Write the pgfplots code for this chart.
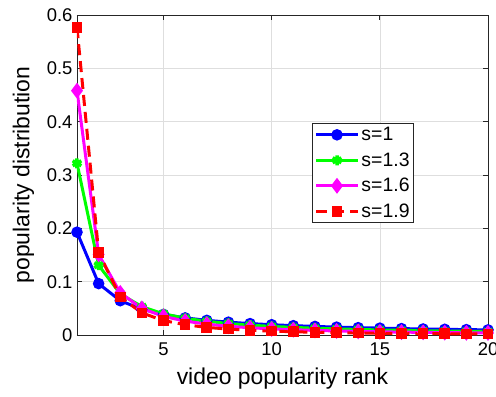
\documentclass[border=0pt]{standalone}
\usepackage{pgfplots}
\pgfplotsset{compat=1.18}
\usepackage{fontspec}
\setmainfont{Liberation Sans}
\definecolor{mgray}{RGB}{38,38,38}
\definecolor{gridc}{RGB}{222,222,222}
\definecolor{colB}{RGB}{0,0,255}
\definecolor{colG}{RGB}{0,255,0}
\definecolor{colM}{RGB}{255,0,255}
\definecolor{colR}{RGB}{255,0,0}
\begin{document}
\begin{tikzpicture}[x=1bp,y=1bp]
\path[use as bounding box] (-77,-61) rectangle (419,335);
\begin{axis}[
  at={(0,0)}, anchor=origin,
  scale only axis, width=411bp, height=320bp,
  xmin=1, xmax=20, ymin=0, ymax=0.6,
  xtick={5,10,15,20}, ytick={0,0.1,0.2,0.3,0.4,0.5,0.6},
  yticklabels={0,0.1,0.2,0.3,0.4,0.5,0.6},
  xticklabels={5,10,15,20},
  grid=major, major grid style={gridc, line width=0.6bp},
  axis line style={mgray, line width=0.8bp},
  tick style={mgray, line width=0.8bp},
  major tick length=5bp,
  tick pos=both, tick align=inside,
  ticklabel style={font=\fontsize{18.5}{22}\selectfont, text=black},
  xticklabel style={yshift=-4bp},
  yticklabel style={xshift=-1bp},
  xlabel={video popularity rank}, ylabel={popularity distribution},
  label style={font=\fontsize{23}{27}\selectfont},
  xlabel style={yshift=-5bp},
  ylabel style={yshift=6bp},
  legend style={at={(0.572,0.6625)}, anchor=north west, draw=mgray, line width=0.8bp,
    font=\fontsize{19.5}{22}\selectfont, inner sep=2bp, row sep=6.5bp,
    legend image code/.code={\draw[mark repeat=2,mark phase=2] plot coordinates {(0bp,0bp) (21bp,0bp) (42bp,0bp)};}},
  legend cell align=left,
]
\addplot[colB, line width=3bp, mark=*, mark size=4.2bp, mark options={solid}] coordinates {
(1,0.1928)(2,0.0964)(3,0.0643)(4,0.0482)(5,0.0386)(6,0.0321)(7,0.0275)(8,0.0241)(9,0.0214)(10,0.0193)
(11,0.0175)(12,0.0161)(13,0.0148)(14,0.0138)(15,0.0129)(16,0.0120)(17,0.0113)(18,0.0107)(19,0.0101)(20,0.0096)};
\addlegendentry{s=1}
\addplot[colG, line width=3bp, mark=asterisk, mark size=5bp, mark options={solid, line width=3.5bp}] coordinates {
(1,0.322)(2,0.1308)(3,0.0772)(4,0.0531)(5,0.0397)(6,0.0314)(7,0.0257)(8,0.0216)(9,0.0185)(10,0.0161)
(11,0.0143)(12,0.0127)(13,0.0115)(14,0.0104)(15,0.0095)(16,0.0088)(17,0.0081)(18,0.0075)(19,0.0070)(20,0.0065)};
\addlegendentry{s=1.3}
\addplot[colM, line width=3bp, mark=diamond*, mark size=5.5bp, mark options={solid}] coordinates {
(1,0.458)(2,0.1511)(3,0.0790)(4,0.0498)(5,0.0349)(6,0.0261)(7,0.0204)(8,0.0164)(9,0.0136)(10,0.0115)
(11,0.0099)(12,0.0086)(13,0.0076)(14,0.0067)(15,0.0060)(16,0.0054)(17,0.0049)(18,0.0045)(19,0.0041)(20,0.0038)};
\addlegendentry{s=1.6}
\addplot[colR, line width=3bp, dash pattern=on 11bp off 6bp, mark=square*, mark size=3.8bp, mark options={solid}] coordinates {
(1,0.577)(2,0.1546)(3,0.0715)(4,0.0414)(5,0.0271)(6,0.0192)(7,0.0143)(8,0.0111)(9,0.0089)(10,0.0073)
(11,0.0061)(12,0.0051)(13,0.0044)(14,0.0038)(15,0.0033)(16,0.0030)(17,0.0027)(18,0.0024)(19,0.0021)(20,0.0020)};
\addlegendentry{s=1.9}
\end{axis}
\end{tikzpicture}
\end{document}
